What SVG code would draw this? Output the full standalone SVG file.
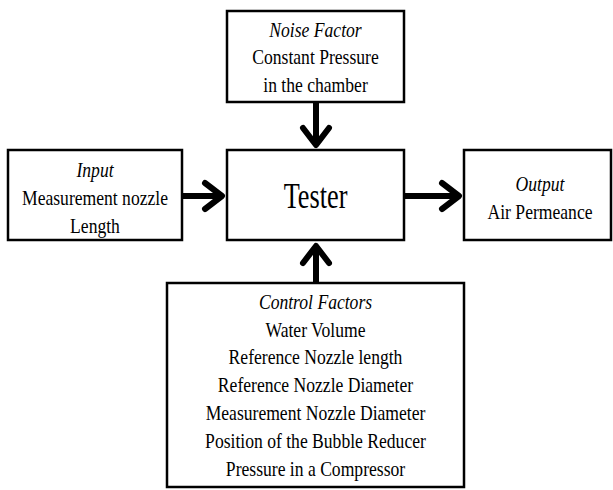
<svg xmlns="http://www.w3.org/2000/svg" width="613" height="490" viewBox="0 0 613 490">
<style>
.box{fill:#fff;stroke:#000;stroke-width:2.5}
.t{font-family:"Liberation Serif","Times New Roman",serif;font-size:22px;fill:#000;text-anchor:middle}
.i{font-style:italic}
.big{font-size:35px}
.conn{stroke:#000;stroke-width:6;fill:none}
</style>
<defs>
<marker id="head" markerUnits="userSpaceOnUse" markerWidth="40" markerHeight="40" refX="0" refY="0" orient="auto" overflow="visible">
<path d="M-17,-13 L0,0 L-17,13" fill="none" stroke="#000" stroke-width="6" stroke-linecap="round" stroke-linejoin="round"/>
</marker>
</defs>
<rect width="613" height="490" fill="#fff"/>
<g id="connectors">
<line class="conn" x1="316" y1="102" x2="316" y2="145" marker-end="url(#head)"/>
<line class="conn" x1="182" y1="196" x2="222" y2="196" marker-end="url(#head)"/>
<line class="conn" x1="404" y1="196" x2="459" y2="196" marker-end="url(#head)"/>
<line class="conn" x1="316" y1="283" x2="316" y2="246" marker-end="url(#head)"/>
</g>
<g id="noise">
<rect class="box" x="227" y="11" width="177" height="91"/>
<g transform="translate(315.5,0) scale(0.8,1)">
<text class="t i" x="0" y="37">Noise Factor</text>
<text class="t" x="0" y="64">Constant Pressure</text>
<text class="t" x="0" y="92">in the chamber</text>
</g>
</g>
<g id="input">
<rect class="box" x="8" y="150" width="174" height="90"/>
<g transform="translate(95,0) scale(0.8,1)">
<text class="t i" x="0" y="177">Input</text>
<text class="t" x="0" y="205">Measurement nozzle</text>
<text class="t" x="0" y="233">Length</text>
</g>
</g>
<g id="tester">
<rect class="box" x="227" y="150" width="177" height="90"/>
<g transform="translate(315.5,0) scale(0.75,1)">
<text class="t big" x="0" y="208">Tester</text>
</g>
</g>
<g id="output">
<rect class="box" x="464" y="150" width="147" height="90"/>
<g transform="translate(540,0) scale(0.8,1)">
<text class="t i" x="0" y="191">Output</text>
<text class="t" x="0" y="219">Air Permeance</text>
</g>
</g>
<g id="control">
<rect class="box" x="167" y="283" width="297" height="204"/>
<g transform="translate(315.5,0) scale(0.8,1)">
<text class="t i" x="0" y="309">Control Factors</text>
<text class="t" x="0" y="337">Water Volume</text>
<text class="t" x="0" y="364">Reference Nozzle length</text>
<text class="t" x="0" y="392">Reference Nozzle Diameter</text>
<text class="t" x="0" y="420">Measurement Nozzle Diameter</text>
<text class="t" x="0" y="448">Position of the Bubble Reducer</text>
<text class="t" x="0" y="476">Pressure in a Compressor</text>
</g>
</g>
</svg>
